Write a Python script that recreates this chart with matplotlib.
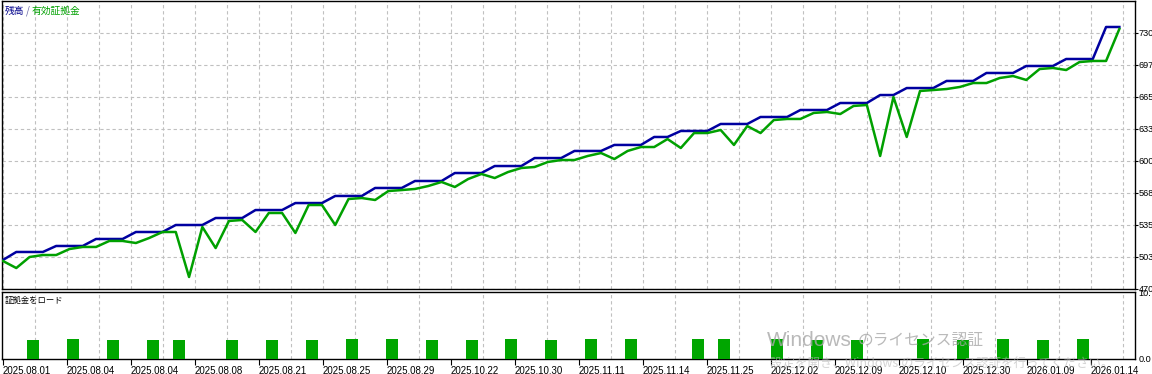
import matplotlib
matplotlib.use('Agg')
from matplotlib import pyplot as plt
import numpy as np

# balance (blue) and equity (green) per deal step
balance = [
    499.5,
    507.6, 507.6, 507.6, 513.7, 513.7, 513.7, 520.8, 520.8, 520.8,
    527.9, 527.9, 527.9, 535.0, 535.0, 535.0, 542.1, 542.1, 542.1,
    550.2, 550.2, 550.2, 557.3, 557.3, 557.3, 564.5, 564.5, 564.5,
    572.6, 572.6, 572.6, 579.7, 579.7, 579.7, 587.8, 587.8, 587.8,
    594.9, 594.9, 594.9, 603.0, 603.0, 603.0, 610.2, 610.2, 610.2,
    616.3, 616.3, 616.3, 624.4, 624.4, 630.5, 630.5, 630.5,
    637.6, 637.6, 637.6, 644.7, 644.7, 644.7, 651.8, 651.8, 651.8,
    658.9, 658.9, 658.9, 667.0, 667.0, 674.1, 674.1, 674.1,
    681.3, 681.3, 681.3, 689.4, 689.4, 689.4, 696.5, 696.5, 696.5,
    703.6, 703.6, 703.6, 736.1, 736.1,
]
equity = [
    498.4, 491.3, 502.5, 504.5, 504.5, 510.6, 512.7, 512.7, 518.8, 518.8,
    516.7, 521.8, 527.9, 527.9, 482.2, 533.0, 511.6, 539.1, 540.1, 527.9,
    547.2, 547.2, 526.9, 555.3, 555.3, 535.0, 561.4, 562.4, 560.4, 569.5,
    570.5, 571.6, 574.6, 578.7, 573.6, 581.7, 586.8, 582.7, 588.8, 592.9,
    593.9, 599.0, 601.0, 601.0, 605.1, 608.1, 602.0, 610.2, 614.2, 614.2,
    622.3, 613.2, 628.4, 628.4, 631.5, 616.3, 635.5, 628.4, 641.6, 642.7,
    642.7, 648.8, 649.8, 647.7, 655.9, 656.9, 605.1, 665.0, 624.4, 671.1,
    672.1, 673.1, 675.2, 679.2, 679.2, 684.3, 686.3, 682.3, 693.4, 694.5,
    692.4, 700.5, 701.6, 701.6, 734.1,
]

# margin load bars
load_idx = [2, 5, 8, 11, 13, 17, 20, 23, 26, 29, 32, 35, 38, 41, 44, 47,
            52, 54, 58, 61, 64, 69, 72, 75, 78, 81]
load_val = [2.9, 3.0, 2.9, 2.9, 2.9, 2.9, 2.9, 2.9, 3.0, 3.0, 2.9, 2.9, 3.0,
            2.9, 3.0, 3.0, 3.0, 3.0, 3.0, 2.9, 2.9, 3.0, 2.9, 3.0, 2.9, 3.0]

y_ticks = [470, 502.5, 535, 567.5, 600, 632.5, 665, 697.5, 730]
y_labels = ['470', '503', '535', '568', '600', '633', '665', '697', '730']

date_labels = ['2025.08.01', '2025.08.04', '2025.08.04', '2025.08.08', '2025.08.21',
               '2025.08.25', '2025.08.29', '2025.10.22', '2025.10.30', '2025.11.11',
               '2025.11.14', '2025.11.25', '2025.12.02', '2025.12.09', '2025.12.10',
               '2025.12.30', '2026.01.09', '2026.01.14']

W, H = 1152, 374
PX = 13.29   # pixels per step
X0 = 3


def frac(l, t, r, b):
    return [l / W, 1 - b / H, (r - l) / W, (b - t) / H]


def px2u(p):
    return (p - X0) / PX


LAT = ['Liberation Sans', 'DejaVu Sans']
JP = ['Noto Sans CJK JP', 'DejaVu Sans']
grid_kw = dict(color='#c0c0c0', linestyle=(0, (3, 2.5)), linewidth=0.8)

fig = plt.figure(figsize=(W / 100, H / 100), dpi=100)
ax = fig.add_axes(frac(2, 1, 1135, 289))
ax2 = fig.add_axes(frac(2, 292, 1135, 359))

steps = np.arange(len(balance))
ax.plot(steps, balance, color='#0000a0', lw=1.8, zorder=3)
ax.plot(steps, equity, color='#00a000', lw=1.8, zorder=3)

ax2.bar(np.array(load_idx) + 0.26, load_val, width=0.9, color='#00a600', zorder=3)

grid_u = [px2u(X0 + 32 * k) for k in range(36)]
for a in (ax, ax2):
    a.set_xlim(px2u(2), px2u(1135))
    a.set_xticks(grid_u, minor=True)
    a.grid(True, which='minor', axis='x', **grid_kw)
    a.tick_params(which='minor', length=0)
    for s in a.spines.values():
        s.set_linewidth(1.0)
        s.set_color('black')

ax.set_ylim(470, 470 + 288 * 32.5 / 32)
ax.set_xticks([])
ax.set_yticks(y_ticks)
ax.set_yticklabels(y_labels, fontfamily=LAT, fontsize=6.6)
ax.yaxis.tick_right()
ax.tick_params(axis='y', length=2, width=0.8, pad=0.5, colors='black')
ax.grid(True, which='major', axis='y', **grid_kw)

ax2.set_ylim(0, 10.15)
ax2.set_yticks([0, 10])
ax2.set_yticklabels(['0.0', '10.'], fontfamily=LAT, fontsize=6.6)
ax2.yaxis.tick_right()
ax2.tick_params(axis='y', length=0, pad=2.5)
ax2.set_xticks([px2u(X0 + 64 * k) for k in range(len(date_labels))])
ax2.set_xticklabels(date_labels, fontfamily=LAT, fontsize=7, ha='left')
ax2.tick_params(axis='x', length=4, width=0.8, pad=1)

# legend captions
fig.text(5 / W, 1 - 11 / H, '残高', color='#00008b', fontsize=7, family=JP, va='center')
fig.text(26 / W, 1 - 11 / H, '/', color='#6060a0', fontsize=7, family=JP, va='center')
fig.text(32 / W, 1 - 11 / H, '有効証拠金', color='#00a000', fontsize=7, family=JP, va='center')
fig.text(5 / W, 1 - 300 / H, '証拠金をロード', color='black', fontsize=6, family=JP, va='center')

# activation watermark
fig.text(767 / W, 1 - 341 / H, 'Windows', color='#a8a8a8', alpha=0.8, fontsize=15,
         family=LAT, va='center', zorder=10)
fig.text(858 / W, 1 - 341 / H, 'のライセンス認証', color='#a8a8a8', alpha=0.8, fontsize=11.3,
         family=JP, va='center', zorder=10)
fig.text(770 / W, 1 - 364 / H, '設定を開き、Windows のライセンス認証を行ってください。',
         color='#b8b8b8', alpha=0.6, fontsize=9, family=JP, va='center', zorder=10)

fig.savefig('out.png', dpi=100)
